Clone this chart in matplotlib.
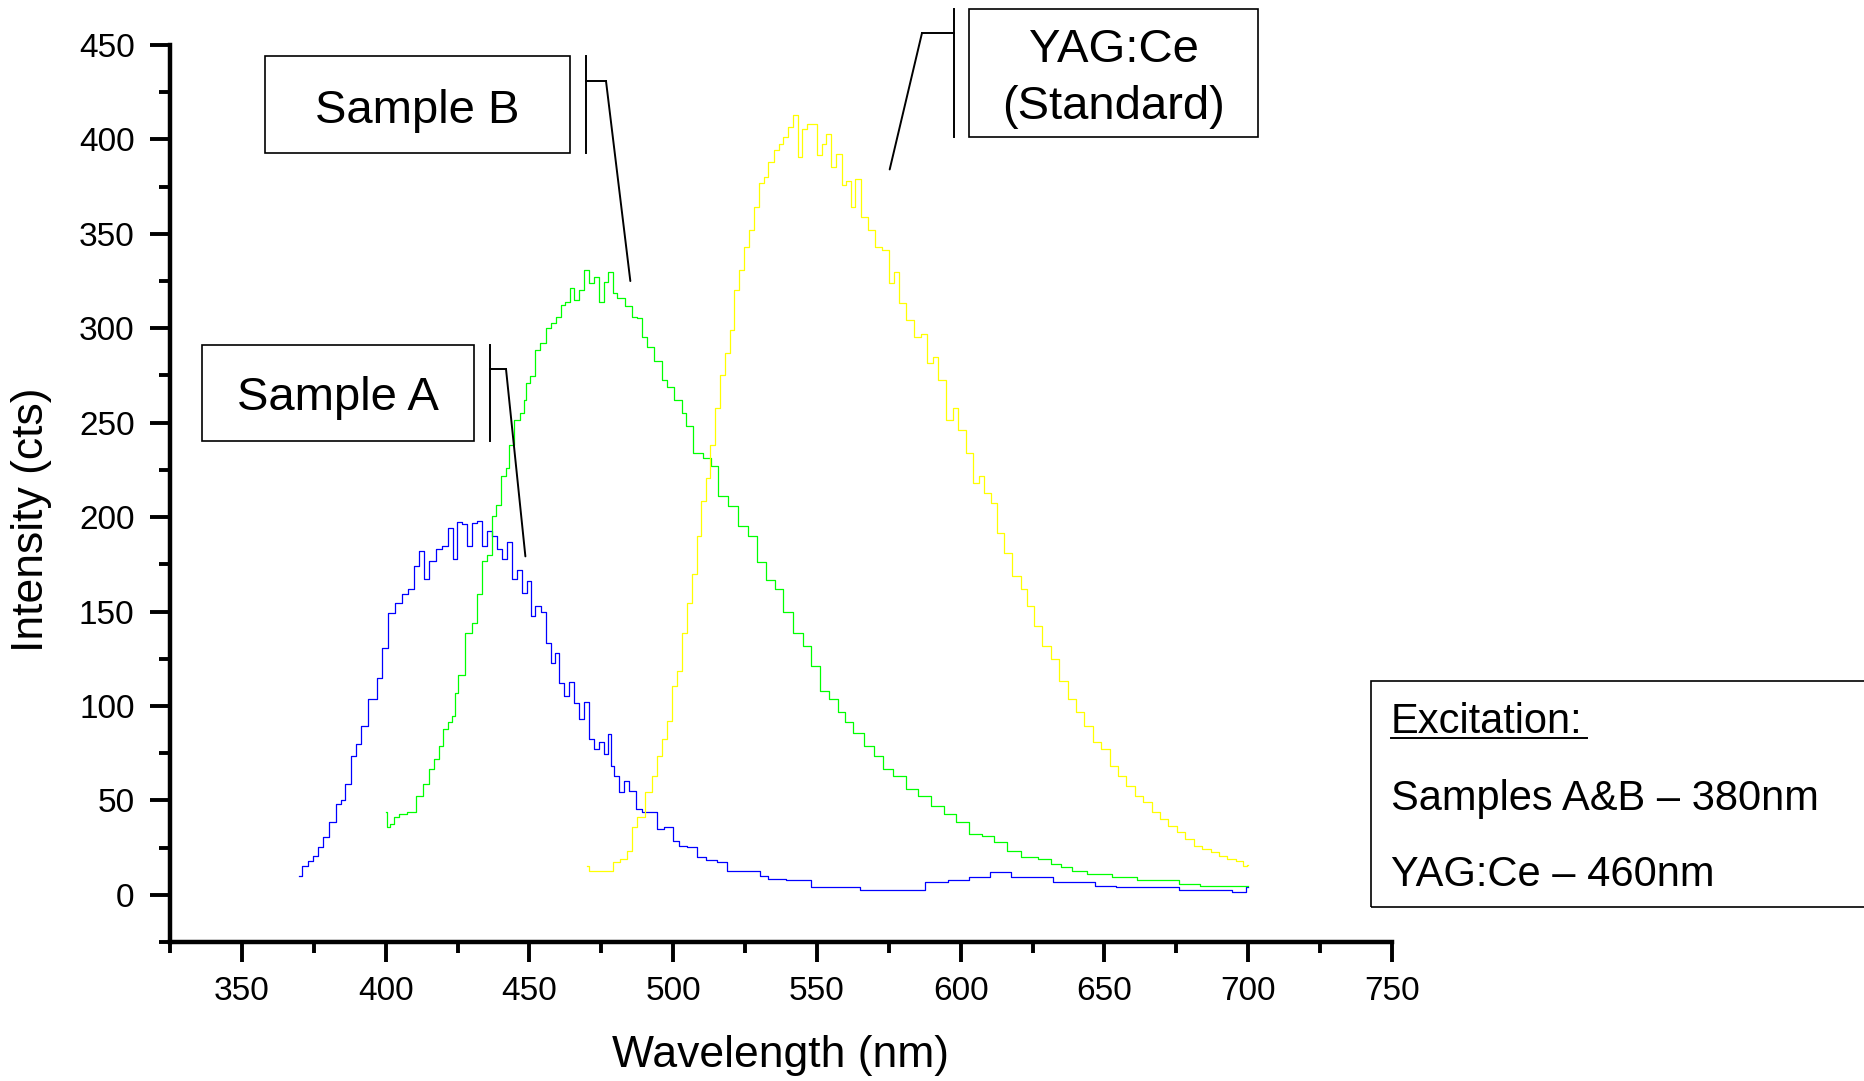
import numpy as np
import matplotlib.pyplot as plt
from matplotlib.patches import Rectangle
from matplotlib.lines import Line2D

plt.rcParams['font.family'] = ['Liberation Sans', 'DejaVu Sans']

# emission spectra: (wavelength nm, counts)
sample_a = [(370, 10.2), (372, 15.5), (373.7, 18.1), (375.5, 20.4), (377.2, 25.2), (378.9, 30.5),
            (381.8, 38.4), (383.6, 48.1), (385, 50), (387, 58.7), (388.8, 73.6), (390.5, 79.8),
            (392.2, 89.5), (395.7, 103.6), (398.6, 115), (399.2, 130.9), (402.1, 149.4), (404.4, 154.7),
            (406.7, 159.1), (409, 161.7), (410.8, 174), (412.5, 182), (414.2, 167), (416, 176.7),
            (418.9, 182.9), (420.6, 184.6), (422.7, 194.3), (424.1, 177.6), (425.8, 197.3), (427.6, 196.1),
            (429.3, 184.6), (431, 197), (432.7, 197.8), (434.5, 184.6), (436.2, 192.6), (437.9, 190),
            (439.7, 182.9), (441.4, 177.6), (443.2, 186.6), (444.9, 167), (446.6, 172), (448.4, 160),
            (449.8, 166), (451.2, 147.6), (453, 152.9), (454.8, 150), (456.5, 133.5), (458.2, 122.9),
            (459.8, 128), (461.1, 112.4), (462.8, 105.3), (464.6, 112.6), (466.3, 101.8), (468.1, 93),
            (469.8, 102), (471.5, 82.5), (473.3, 77.2), (475, 81), (476.7, 74.5), (478.2, 85.1),
            (478.5, 68.3), (480.2, 63), (481.9, 54.2), (483.7, 60.4), (485.5, 55), (488.3, 45.5),
            (490, 43.7), (493.5, 43.7), (495.2, 34.9), (498.4, 35.8), (501.3, 28.7), (503, 26.1),
            (506.4, 25.2), (510.1, 19.9), (513, 18.5), (517.4, 17.3), (520.3, 12.8), (529.1, 12.8),
            (531.2, 10.2), (534.9, 8.5), (543.7, 7.6), (552.4, 4.1), (560, 4), (570.2, 2.3),
            (583.3, 2.3), (592.1, 6.7), (599.2, 7.6), (606.7, 9.3), (613.9, 12.0), (621.1, 9.3),
            (628.4, 9.3), (635.7, 6.7), (643, 6.7), (650.3, 4.9), (657.6, 4.1), (665, 4.1),
            (672, 4.1), (679.6, 2.3), (690, 2.3), (698.6, 1.4), (700, 4)]

sample_b = [(400, 43.7), (400.6, 35.8), (402.1, 37.5), (403.5, 41), (405.6, 42.8), (409, 43.7),
            (411.9, 52.5), (414.2, 58.7), (416, 66.6), (417.7, 71.9), (419.2, 78.9), (420.8, 87.7),
            (422.3, 91.3), (424.1, 94.8), (424.3, 107.1), (426, 116.5), (429.3, 138.8), (431, 144),
            (432.7, 159.1), (434.5, 176.7), (436.2, 180), (437.7, 200.5), (439.3, 206.5), (441.2, 221.6),
            (442.8, 226), (443.2, 238.4), (446, 251.6), (447.8, 255.1), (448.1, 262.2), (449.5, 270.9),
            (451.2, 274.5), (453, 288.6), (454.7, 292.1), (456.5, 300), (458.2, 302.6), (460, 306.2),
            (461.7, 312.4), (463.4, 314.1), (464.8, 321.2), (466.3, 315), (468.1, 320.3), (469.8, 330.9),
            (471.5, 323.8), (473.3, 327.3), (475, 314.1), (476.7, 324.7), (478.2, 330), (479.6, 318.5),
            (481.4, 315.8), (484.8, 311.6), (486.6, 306.2), (488.3, 305.3), (490.3, 295.6), (491.8, 290.3),
            (495.2, 282.4), (497, 272.7), (498.7, 269.1), (502.2, 262.2), (503.9, 255.1), (505.1, 248.1),
            (508.6, 233.9), (512, 231.3), (514.3, 226.9), (517.2, 211), (520.7, 205.8), (524.1, 195.2),
            (527.6, 189.9), (530.6, 176), (534.1, 166.5), (536.9, 161.7), (539.3, 149.5), (543.7, 138.8),
            (546.6, 131.8), (549.5, 121.2), (552.4, 108), (556.1, 103.6), (558.3, 96.6), (561.2, 91.3),
            (564.1, 85.9), (568.5, 78.9), (571.5, 73.6), (574.4, 66.6), (578.8, 63), (583.1, 56),
            (587.5, 52.5), (591.9, 47.2), (596.3, 42.8), (600.7, 38.4), (605.1, 32.2), (609.4, 31.3),
            (613.8, 27.8), (618.2, 23.4), (624, 19.9), (629.8, 19), (632.8, 16.4), (637.2, 14.6),
            (640.1, 12.8), (647.4, 11.1), (657.6, 9.3), (665, 7.6), (672, 7.6), (679.6, 5.8),
            (686.9, 4.9), (700, 4.9)]

yag_ce = [(470.1, 15.2), (471.5, 12.8), (478.2, 12.8), (480.2, 17.3), (483.1, 19), (484.8, 23.4),
          (486.6, 35.8), (488.3, 41), (491.8, 54.2), (493.5, 63), (495.2, 73.6), (497, 82.5),
          (498.7, 92.1), (500.2, 110.6), (502.2, 118.5), (503.7, 138.8), (505.7, 154.7), (507.4, 170),
          (509.1, 189.9), (510.6, 208.4), (512, 220.7), (513.8, 238.4), (515.5, 257.8), (517.2, 275.4),
          (519, 286.8), (520.4, 299.1), (521.9, 320.3), (523.6, 330.9), (525.6, 343.2), (527.3, 352),
          (529.1, 364.3), (530.6, 376.7), (532.3, 380.2), (534, 388.1), (535.8, 394.3), (537.5, 397.8),
          (539.2, 401.3), (541, 406.6), (542.5, 412.8), (544, 390.8), (545.6, 405.7), (547.3, 408),
          (549, 408), (550.8, 391.6), (552.4, 397.8), (554.2, 403.1), (555.9, 385.5), (557.7, 392.5),
          (559.4, 375.8), (561, 378), (562.6, 364.3), (564.1, 379.3), (566.2, 359), (569.3, 352),
          (571, 343.2), (574.3, 341.5), (576, 323.8), (577.6, 330), (579.3, 313.2), (582.6, 304.4),
          (584.9, 295.6), (587.2, 297), (589.6, 281.5), (591.3, 285), (593.1, 272.7), (596.5, 251.6),
          (598.2, 258), (600, 246.3), (603.5, 233.9), (605.2, 218.1), (607.2, 222), (609.3, 212.8),
          (611.5, 207.5), (613.8, 191.7), (616, 181.1), (619.7, 168.8), (621.9, 161.7), (624, 152.9),
          (626.9, 142.3), (629.9, 131.8), (632.8, 124.7), (635.7, 113.3), (638.7, 103.6), (641.6, 96.6),
          (644.5, 89.5), (647.4, 80.7), (650.3, 77.2), (653.3, 68.3), (656.2, 63), (659.1, 57.7),
          (662, 52.5), (665, 48.9), (667.9, 43.7), (670.8, 40.2), (673.7, 36.6), (676.6, 33.1),
          (679.6, 29.6), (682.5, 26.1), (685.4, 24.3), (688.4, 22.5), (691.3, 20.8), (694.2, 19),
          (697.1, 18.1), (699.3, 15.5), (700, 16)]

series = [(sample_a, '#0000ff'), (sample_b, '#00ff00'), (yag_ce, '#ffff00')]

# where each callout points on its curve (data coords)
callout_pts = {'Sample A': (448.6, 179.2), 'Sample B': (485.1, 325.0), 'YAG': (575.3, 384.1)}

W, H = 1864, 1081
fig = plt.figure(figsize=(W / 100, H / 100), dpi=100)


def fx(px):
    return px / W


def fy(py):
    return 1 - py / H


ax = fig.add_axes([fx(170), fy(942), fx(1392) - fx(170), fy(45) - fy(942)])

for pts, col in series:
    xs, ys = zip(*pts)
    ax.plot(xs, ys, color=col, lw=0.9, drawstyle='steps-mid')

ax.set_xlim(325, 750)
ax.set_ylim(-25, 450)
ax.set_xticks(np.arange(350, 751, 50))
ax.set_xticks(np.arange(325, 751, 25), minor=True)
ax.set_yticks(np.arange(0, 451, 50))
ax.set_yticks(np.arange(-25, 451, 25), minor=True)
for s in ['top', 'right']:
    ax.spines[s].set_visible(False)
for s in ['left', 'bottom']:
    ax.spines[s].set_linewidth(3.2)
ax.tick_params(which='major', length=14.5, width=2.8, labelsize=24)
ax.tick_params(which='minor', length=8, width=2.8)
ax.tick_params(axis='y', pad=11)
ax.tick_params(axis='x', pad=10)

fig.text(fx(32), fy(520), 'Intensity (cts)', rotation=90, ha='center', va='center', fontsize=32)
fig.text(fx(781), fy(1055), 'Wavelength (nm)', ha='center', va='center', fontsize=32)


def box(x0, y0, x1, y1):
    fig.add_artist(Rectangle((fx(x0), fy(y1)), fx(x1) - fx(x0), fy(y0) - fy(y1),
                             transform=fig.transFigure, fill=False, ec='black', lw=1.2))


def pline(xs, ys):
    fig.add_artist(Line2D([fx(v) for v in xs], [fy(v) for v in ys],
                          transform=fig.transFigure, color='black', lw=1.4))


def leader(name, px, py):
    ax.annotate('', xy=callout_pts[name], xycoords='data',
                xytext=(fx(px), fy(py)), textcoords='figure fraction',
                arrowprops=dict(arrowstyle='-', lw=1.4, color='black', shrinkA=0, shrinkB=0))


# Sample B callout
box(265, 56, 570, 153)
fig.text(fx(417.5), fy(123), 'Sample B', ha='center', va='baseline', fontsize=34)
pline([586, 586], [56, 153])
pline([586, 606], [81, 81])
leader('Sample B', 606, 81)

# Sample A callout
box(202, 345, 474, 441)
fig.text(fx(338), fy(410), 'Sample A', ha='center', va='baseline', fontsize=34)
pline([490, 490], [345, 441])
pline([490, 506], [369, 369])
leader('Sample A', 506, 369)

# YAG:Ce callout
box(969, 9, 1258, 137)
fig.text(fx(1113.5), fy(62), 'YAG:Ce', ha='center', va='baseline', fontsize=34)
fig.text(fx(1113.5), fy(119), '(Standard)', ha='center', va='baseline', fontsize=34)
pline([954, 954], [9, 137])
pline([954, 922], [33, 33])
leader('YAG', 922, 33)

# excitation info box (runs off the right edge)
box(1371, 681, 1875, 907)
fig.text(fx(1391), fy(733), 'Excitation:', ha='left', va='baseline', fontsize=30)
pline([1391, 1587], [738, 738])
fig.text(fx(1391), fy(810), 'Samples A&B \u2013 380nm', ha='left', va='baseline', fontsize=30)
fig.text(fx(1391), fy(886), 'YAG:Ce \u2013 460nm', ha='left', va='baseline', fontsize=30)

fig.savefig('out.png', dpi=100)
